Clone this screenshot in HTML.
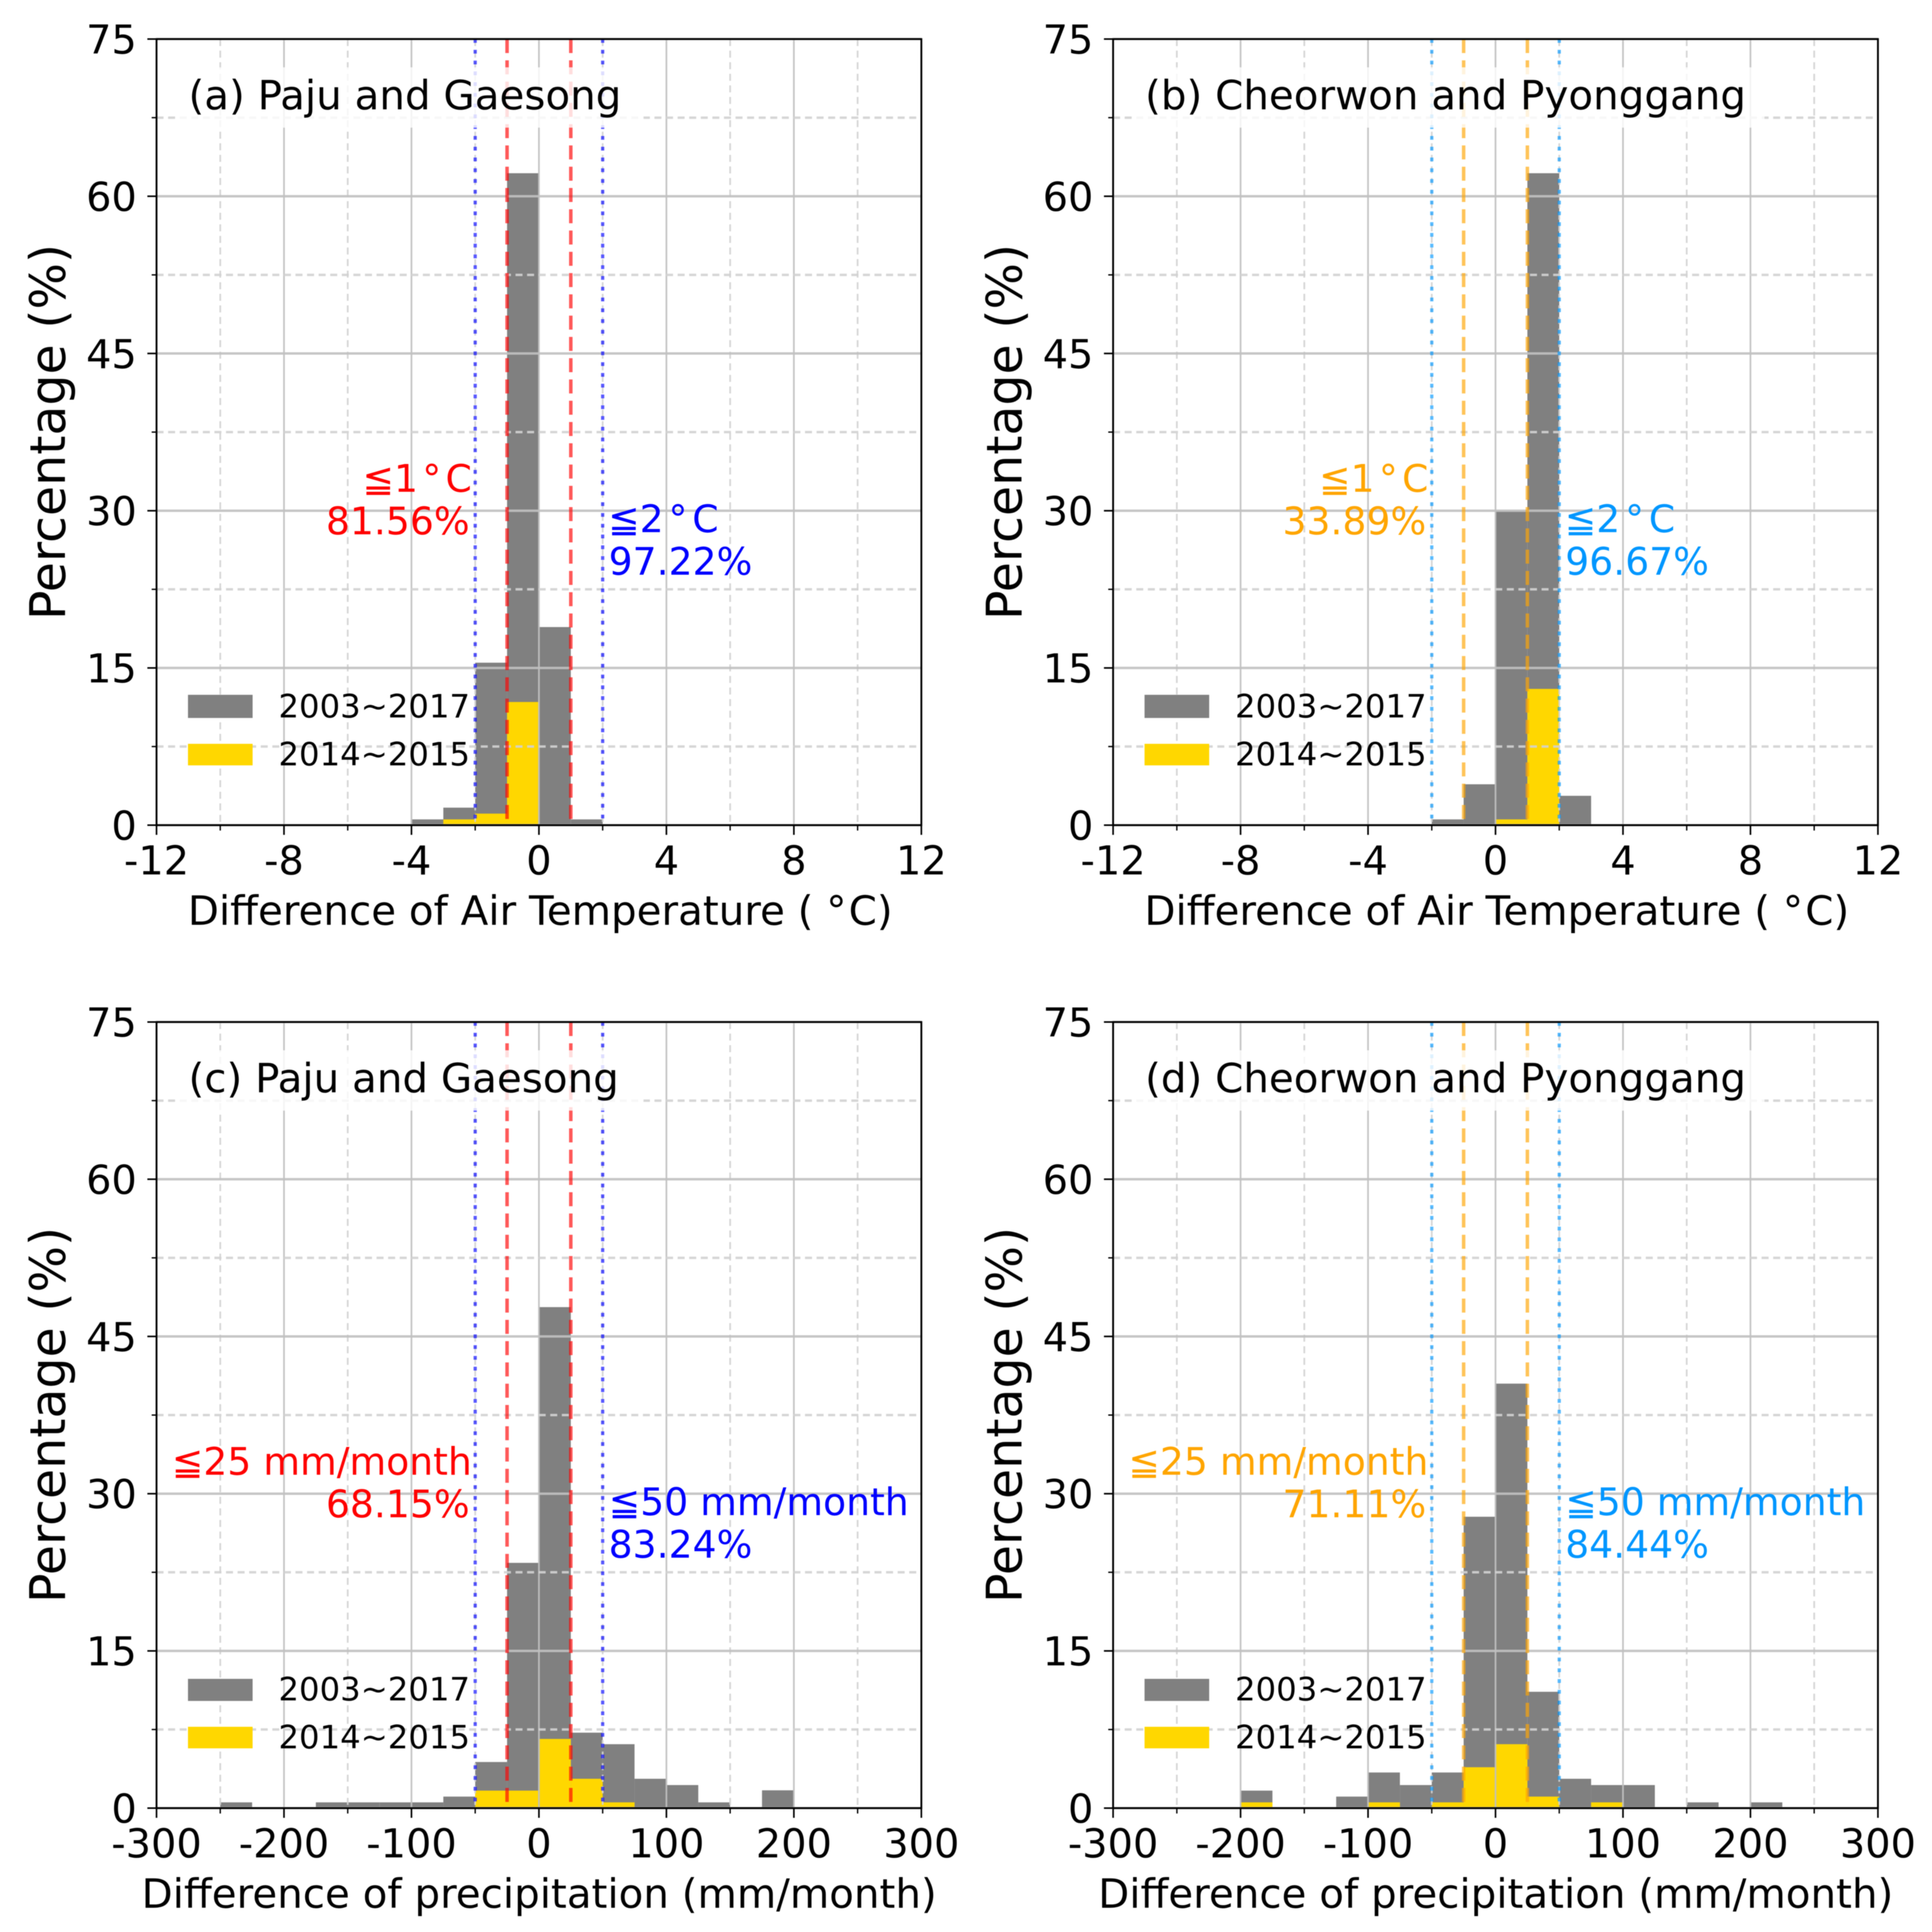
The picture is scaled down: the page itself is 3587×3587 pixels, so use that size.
<!DOCTYPE html>
<html lang="en">
<head>
<meta charset="utf-8">
<title>Histograms of temperature and precipitation differences</title>
<style>
html,body{margin:0;padding:0;background:#fff;}
svg{display:block;filter:blur(0.8px);}
text{font-family:"DejaVu Sans","Noto Sans CJK JP",sans-serif;fill:#000;}
.tick{font-size:74px;}
.lab{font-size:75px;}
.ylab{font-size:91px;}
.leg{font-size:60px;}
.ann{font-size:70px;}
</style>
</head>
<body>
<svg id="figure" xmlns="http://www.w3.org/2000/svg" width="3587" height="3587" viewBox="0 0 3587 3587">
<rect width="3587" height="3587" fill="#fff"/>

<g id="panel-a">
  <g class="marks"></g>
  <rect x="328" y="125" width="867" height="112" fill="#fff" fill-opacity="0.8"/>
  <g class="axes"></g>
  <text class="lab" x="350" y="203">(a) Paju and Gaesong</text>
  <text class="ann" x="876" y="913" text-anchor="end" style="fill:#ff0000">≦1<tspan dx="8">°</tspan><tspan dx="8">C</tspan></text>
  <text class="ann" x="872" y="992" text-anchor="end" style="fill:#ff0000">81.56%</text>
  <text class="ann" x="1129" y="988" style="fill:#0000ff">≦2<tspan dx="9">°</tspan><tspan dx="9">C</tspan></text>
  <text class="ann" x="1130" y="1067" style="fill:#0000ff">97.22%</text>
  <rect x="349" y="1290" width="120" height="43" fill="#808080"/>
  <rect x="349" y="1381" width="120" height="40" fill="#ffd700"/>
  <text class="leg" x="517" y="1332">2003~2017</text>
  <text class="leg" x="517" y="1421">2014~2015</text>
  <text class="lab" x="1003" y="1717" text-anchor="middle">Difference of Air Temperature ( °<tspan dx="4">C</tspan>)</text>
  <text class="ylab" transform="translate(120.5,802) rotate(-90)" text-anchor="middle">Percentage (%)</text>
</g>

<g id="panel-b" transform="translate(1776,0)">
  <g class="marks"></g>
  <rect x="328" y="125" width="1172" height="112" fill="#fff" fill-opacity="0.8"/>
  <g class="axes"></g>
  <text class="lab" x="350" y="203">(b) Cheorwon and Pyonggang</text>
  <text class="ann" x="876" y="913" text-anchor="end" style="fill:#ffa500">≦1<tspan dx="8">°</tspan><tspan dx="8">C</tspan></text>
  <text class="ann" x="872" y="992" text-anchor="end" style="fill:#ffa500">33.89%</text>
  <text class="ann" x="1129" y="988" style="fill:#0096ff">≦2<tspan dx="9">°</tspan><tspan dx="9">C</tspan></text>
  <text class="ann" x="1130" y="1067" style="fill:#0096ff">96.67%</text>
  <rect x="349" y="1290" width="120" height="43" fill="#808080"/>
  <rect x="349" y="1381" width="120" height="40" fill="#ffd700"/>
  <text class="leg" x="517" y="1332">2003~2017</text>
  <text class="leg" x="517" y="1421">2014~2015</text>
  <text class="lab" x="1003" y="1717" text-anchor="middle">Difference of Air Temperature ( °<tspan dx="4">C</tspan>)</text>
  <text class="ylab" transform="translate(120.5,802) rotate(-90)" text-anchor="middle">Percentage (%)</text>
</g>

<g id="panel-c" transform="translate(0,1825)">
  <g class="marks"></g>
  <rect x="328" y="125" width="867" height="112" fill="#fff" fill-opacity="0.8"/>
  <g class="axes"></g>
  <text class="lab" x="350" y="203">(c) Paju and Gaesong</text>
  <text class="ann" x="876" y="913" text-anchor="end" style="fill:#ff0000">≦25 mm/month</text>
  <text class="ann" x="872" y="992" text-anchor="end" style="fill:#ff0000">68.15%</text>
  <text class="ann" x="1130" y="988" style="fill:#0000ff">≦50 mm/month</text>
  <text class="ann" x="1130" y="1067" style="fill:#0000ff">83.24%</text>
  <rect x="349" y="1292" width="120" height="41" fill="#808080"/>
  <rect x="349" y="1381" width="120" height="40" fill="#ffd700"/>
  <text class="leg" x="517" y="1332">2003~2017</text>
  <text class="leg" x="517" y="1421">2014~2015</text>
  <text class="lab" x="1001" y="1717" text-anchor="middle">Difference of precipitation (mm/month)</text>
  <text class="ylab" transform="translate(120.5,802) rotate(-90)" text-anchor="middle">Percentage (%)</text>
</g>

<g id="panel-d" transform="translate(1776,1825)">
  <g class="marks"></g>
  <rect x="328" y="125" width="1172" height="112" fill="#fff" fill-opacity="0.8"/>
  <g class="axes"></g>
  <text class="lab" x="350" y="203">(d) Cheorwon and Pyonggang</text>
  <text class="ann" x="876" y="913" text-anchor="end" style="fill:#ffa500">≦25 mm/month</text>
  <text class="ann" x="872" y="992" text-anchor="end" style="fill:#ffa500">71.11%</text>
  <text class="ann" x="1130" y="988" style="fill:#0096ff">≦50 mm/month</text>
  <text class="ann" x="1130" y="1067" style="fill:#0096ff">84.44%</text>
  <rect x="349" y="1292" width="120" height="41" fill="#808080"/>
  <rect x="349" y="1381" width="120" height="40" fill="#ffd700"/>
  <text class="leg" x="517" y="1332">2003~2017</text>
  <text class="leg" x="517" y="1421">2014~2015</text>
  <text class="lab" x="1001" y="1717" text-anchor="middle">Difference of precipitation (mm/month)</text>
  <text class="ylab" transform="translate(120.5,802) rotate(-90)" text-anchor="middle">Percentage (%)</text>
</g>
</svg>

<script>
// Histogram bin starts
const tempBinStarts = [-4, -3, -2, -1, 0, 1, 2];
const precipBinStarts = [-250, -225, -200, -175, -150, -125, -100, -75, -50, -25, 0, 25, 50, 75, 100, 125, 150, 175, 200, 225];
const tempBinWidth = 1;
const precipBinWidth = 25;

// Series values (percent)
const panelAGray = [0.55, 1.67, 15.5, 62.2, 18.9, 0.55, 0];
const panelAGold = [0, 0.55, 1.1, 11.75, 0, 0, 0];
const panelBGray = [0, 0, 0.55, 3.9, 30, 62.2, 2.8];
const panelBGold = [0, 0, 0, 0, 0.55, 13, 0];
const panelCGray = [0.55, 0, 0, 0.55, 0.55, 0.55, 0.55, 1.1, 4.4, 23.4, 47.8, 7.2, 6.1, 2.8, 2.2, 0.55, 0, 1.7, 0, 0];
const panelCGold = [0, 0, 0, 0, 0, 0, 0, 0, 1.67, 1.67, 6.6, 2.8, 0.55, 0, 0, 0, 0, 0, 0, 0];
const panelDGray = [0, 0, 1.67, 0, 0, 1.1, 3.4, 2.2, 3.4, 27.8, 40.5, 11.1, 2.8, 2.2, 2.2, 0, 0.55, 0, 0.55, 0];
const panelDGold = [0, 0, 0.55, 0, 0, 0, 0.55, 0, 0.55, 3.9, 6.1, 1.1, 0, 0.55, 0, 0, 0, 0, 0, 0];

// Tick values and labels
const yMajorTicks = [0, 15, 30, 45, 60, 75];
const yMinorTicks = [7.5, 22.5, 37.5, 52.5, 67.5];
const yTickLabels = ["0", "15", "30", "45", "60", "75"];
const tempMajorTicks = [-12, -8, -4, 0, 4, 8, 12];
const tempMinorTicks = [-10, -6, -2, 2, 6, 10];
const tempTickLabels = ["-12", "-8", "-4", "0", "4", "8", "12"];
const precipMajorTicks = [-300, -200, -100, 0, 100, 200, 300];
const precipMinorTicks = [-250, -150, -50, 50, 150, 250];
const precipTickLabels = ["-300", "-200", "-100", "0", "100", "200", "300"];

// Threshold values marked by vertical reference lines
const tempInnerLimits = [-1, 1];
const tempOuterLimits = [-2, 2];
const precipInnerLimits = [-25, 25];
const precipOuterLimits = [-50, 50];

const SVG_NS = "http://www.w3.org/2000/svg";
const AXES_LEFT = 290.6;
const AXES_WIDTH = 1420;
const AXES_BOTTOM = 1532;
const AXES_HEIGHT = 1459.5;
const Y_MAX = 75;

function makeXScale(min, max) {
  return function (v) {
    return AXES_LEFT + (v - min) / (max - min) * AXES_WIDTH;
  };
}
function yScale(v) {
  return AXES_BOTTOM - v / Y_MAX * AXES_HEIGHT;
}
function addLine(parent, x1, y1, x2, y2, stroke, width, dash, opacity) {
  const el = document.createElementNS(SVG_NS, "line");
  el.setAttribute("x1", x1);
  el.setAttribute("y1", y1);
  el.setAttribute("x2", x2);
  el.setAttribute("y2", y2);
  el.setAttribute("stroke", stroke);
  el.setAttribute("stroke-width", width);
  if (dash) el.setAttribute("stroke-dasharray", dash);
  if (opacity) el.setAttribute("stroke-opacity", opacity);
  parent.appendChild(el);
  return el;
}
function addBars(parent, starts, binWidth, values, color, x, label) {
  values.forEach(function (v, i) {
    if (!v) return;
    const el = document.createElementNS(SVG_NS, "rect");
    
    
    el.setAttribute("data-series", label);
    el.setAttribute("x", x(starts[i]));
    el.setAttribute("width", x(starts[i] + binWidth) - x(starts[i]));
    el.setAttribute("y", yScale(v));
    el.setAttribute("height", yScale(0) - yScale(v));
    el.setAttribute("fill", color);
    parent.appendChild(el);
  });
}
function addTickLabel(parent, str, x, y, anchor) {
  const el = document.createElementNS(SVG_NS, "text");
  
  
  el.setAttribute("class", "tick");
  el.setAttribute("x", x);
  el.setAttribute("y", y);
  el.setAttribute("text-anchor", anchor);
  el.textContent = str;
  parent.appendChild(el);
}

function drawPanel(cfg) {
  const root = document.getElementById(cfg.id);
  const marks = root.querySelector(".marks");
  const axes = root.querySelector(".axes");
  const x = makeXScale(cfg.xMajor[0], cfg.xMajor[cfg.xMajor.length - 1]);
  const top = yScale(Y_MAX);
  const bottom = yScale(0);
  const left = x(cfg.xMajor[0]);
  const right = x(cfg.xMajor[cfg.xMajor.length - 1]);

  addBars(marks, cfg.starts, cfg.binWidth, cfg.gray, "#808080", x, "2003-2017");
  addBars(marks, cfg.starts, cfg.binWidth, cfg.gold, "#ffd700", x, "2014-2015");

  cfg.xMajor.forEach(function (t) {
    const el = addLine(marks, x(t), top, x(t), bottom, "#c0c0c0", 3.2, null, 0.9);
    
    
  });
  cfg.xMinor.forEach(function (t) {
    const el = addLine(marks, x(t), top, x(t), bottom, "#d2d2d2", 3.2, "13 8.5", 0.9);
    
    
  });
  yMajorTicks.forEach(function (t) {
    const el = addLine(marks, left, yScale(t), right, yScale(t), "#c0c0c0", 4.5, null, 0.9);
    
    
  });
  yMinorTicks.forEach(function (t) {
    const el = addLine(marks, left, yScale(t), right, yScale(t), "#d2d2d2", 4.5, "13 8.5", 0.9);
    
    
  });

  cfg.outer.forEach(function (t) {
    const el = addLine(marks, x(t), top, x(t), bottom, cfg.outerColor, 6, "7 13", 0.65);
    
    
  });
  cfg.inner.forEach(function (t) {
    const el = addLine(marks, x(t), top, x(t), bottom, cfg.innerColor, 6.5, "26 13.5", 0.65);
    
    
  });

  cfg.xMajor.forEach(function (t, i) {
    const el = addLine(axes, x(t), bottom, x(t), bottom + 18, "#000", 3);
    
    
    addTickLabel(axes, cfg.xLabels[i], x(t), 1623.5, "middle");
  });
  cfg.xMinor.forEach(function (t) {
    const el = addLine(axes, x(t), bottom, x(t), bottom + 10, "#000", 2.5);
    
    
  });
  yMajorTicks.forEach(function (t, i) {
    const el = addLine(axes, left - 17, yScale(t), left, yScale(t), "#000", 3);
    
    
    addTickLabel(axes, yTickLabels[i], 254, yScale(t) + 27, "end");
  });
  yMinorTicks.forEach(function (t) {
    const el = addLine(axes, left - 9, yScale(t), left, yScale(t), "#000", 2.5);
    
    
  });

  const frame = document.createElementNS(SVG_NS, "rect");
  
  
  frame.setAttribute("x", left);
  frame.setAttribute("y", top);
  frame.setAttribute("width", right - left);
  frame.setAttribute("height", bottom - top);
  frame.setAttribute("fill", "none");
  frame.setAttribute("stroke", "#000");
  frame.setAttribute("stroke-width", 3.4);
  axes.appendChild(frame);
}

drawPanel({ id: "panel-a", starts: tempBinStarts, binWidth: tempBinWidth, gray: panelAGray, gold: panelAGold,
  xMajor: tempMajorTicks, xMinor: tempMinorTicks, xLabels: tempTickLabels,
  inner: tempInnerLimits, outer: tempOuterLimits, innerColor: "#ff0000", outerColor: "#0000ff" });
drawPanel({ id: "panel-b", starts: tempBinStarts, binWidth: tempBinWidth, gray: panelBGray, gold: panelBGold,
  xMajor: tempMajorTicks, xMinor: tempMinorTicks, xLabels: tempTickLabels,
  inner: tempInnerLimits, outer: tempOuterLimits, innerColor: "#ffa500", outerColor: "#0096ff" });
drawPanel({ id: "panel-c", starts: precipBinStarts, binWidth: precipBinWidth, gray: panelCGray, gold: panelCGold,
  xMajor: precipMajorTicks, xMinor: precipMinorTicks, xLabels: precipTickLabels,
  inner: precipInnerLimits, outer: precipOuterLimits, innerColor: "#ff0000", outerColor: "#0000ff" });
drawPanel({ id: "panel-d", starts: precipBinStarts, binWidth: precipBinWidth, gray: panelDGray, gold: panelDGold,
  xMajor: precipMajorTicks, xMinor: precipMinorTicks, xLabels: precipTickLabels,
  inner: precipInnerLimits, outer: precipOuterLimits, innerColor: "#ffa500", outerColor: "#0096ff" });
</script>
</body>
</html>
